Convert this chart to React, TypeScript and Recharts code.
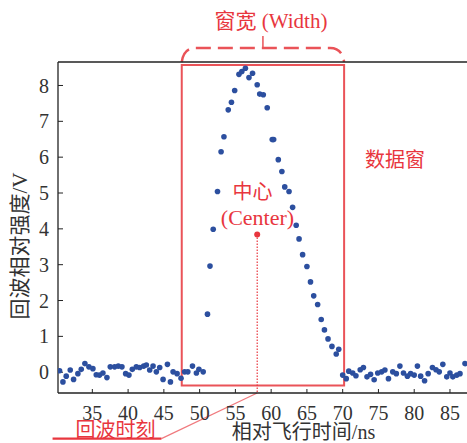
import React from 'react';
import { ScatterChart, Scatter, XAxis, YAxis, ReferenceArea, ReferenceLine, ReferenceDot } from 'recharts';

// baseline noise before the echo (ns / V)
const leftTimes = [30.42, 30.89, 31.35, 31.91, 32.38, 32.98, 33.45, 33.96, 34.52, 35.08, 35.55, 36.01, 36.48, 37.04, 37.51, 38.12, 38.63, 39.14, 39.66, 40.12, 40.59, 41.15, 41.62, 42.18, 42.55, 43.02, 43.49, 43.95, 44.42, 44.89, 45.5, 45.92, 46.29, 46.85, 47.4, 47.9, 48.35, 49.0, 49.55, 49.9, 50.5];
const leftVolts = [0.04, -0.27, -0.11, 0.06, -0.2, -0.04, 0.08, 0.24, 0.15, 0.1, -0.07, -0.08, -0.02, -0.15, 0.15, 0.15, 0.17, 0.15, -0.04, -0.08, 0.08, 0.15, 0.13, 0.17, 0.2, 0.06, 0.17, 0.01, 0.13, -0.2, 0.22, -0.27, 0.01, -0.04, -0.17, 0.01, 0.01, 0.17, -0.02, 0.08, 0.01];

// the echo pulse
const pulseTimes = [51.1, 51.45, 51.9, 52.5, 53.0, 53.4, 54.0, 54.45, 54.9, 55.5, 55.9, 56.4, 56.9, 57.4, 58.05, 58.4, 58.9, 59.45, 60.15, 60.35, 61.0, 61.5, 61.9, 62.5, 63.0, 63.5, 63.9, 64.4, 65.0, 65.5, 65.95, 66.5, 67.0, 67.45, 67.95, 68.5, 69.1, 69.45];
const pulseVolts = [1.62, 2.96, 3.99, 5.04, 6.15, 6.57, 7.32, 7.53, 7.86, 8.31, 8.39, 8.48, 8.22, 8.34, 8.02, 7.76, 7.74, 7.38, 6.49, 6.49, 5.93, 5.6, 5.17, 5.04, 4.6, 4.1, 3.72, 3.28, 2.95, 2.52, 2.13, 1.89, 1.47, 1.18, 0.93, 0.72, 0.51, 0.64];

// baseline noise after the echo
const rightTimes = [70.0, 70.5, 70.85, 71.4, 71.85, 72.45, 72.9, 73.4, 73.9, 74.4, 74.9, 75.45, 75.9, 76.4, 77.0, 77.5, 78.0, 78.5, 79.05, 79.5, 80.0, 80.45, 80.9, 81.45, 81.95, 82.55, 83.05, 83.5, 84.0, 84.55, 85.0, 85.4, 85.95, 86.4, 87.1];
const rightVolts = [-0.08, -0.18, 0.03, -0.02, -0.1, 0.07, 0.13, -0.13, -0.06, -0.21, -0.02, 0.01, 0.06, -0.18, 0.01, -0.04, 0.17, -0.02, -0.11, -0.04, -0.08, 0.17, -0.11, -0.24, -0.04, 0.13, 0.07, 0.01, 0.22, -0.13, -0.02, -0.13, -0.08, -0.04, 0.24];

const xTicks = [35, 40, 45, 50, 55, 60, 65, 70, 75, 80, 85];
const yTicks = [0, 1, 2, 3, 4, 5, 6, 7, 8];

const X_DOMAIN = [30.2, 87.38];
const Y_DOMAIN = [-0.58, 8.655];

// data window and echo centre
const windowStart = 47.5;
const windowEnd = 70.2;
const windowTop = 8.57;
const windowBottom = -0.37;
const centerTime = 58.05;
const centerVolt = 3.84;
// leader line for the echo moment label (runs below the axis)
const leaderEnd = { t: 44.66, v: -1.854 };
const leaderTail = 29.44;

const points = [
  ...leftTimes.map((t, i) => ({ t, v: leftVolts[i] })),
  ...pulseTimes.map((t, i) => ({ t, v: pulseVolts[i] })),
  ...rightTimes.map((t, i) => ({ t, v: rightVolts[i] })),
];

const RED = '#e8363e';
const BOX = '#ea5358';
const BLUE = '#2c4f9f';
const AXIS = '#222';
const SERIF = "'Liberation Serif', 'Noto Sans CJK SC', serif";

const Brace = (props: any) => {
  const { x1, y1, x2 } = props;
  const h = 14;
  const mid = (x1 + x2) / 2;
  return (
    <g>
      <path
        d={`M${x1},${y1} Q${x1 + 2},${y1 - h} ${x1 + h},${y1 - h} L${x2 - h},${y1 - h} Q${x2 - 2},${y1 - h} ${x2},${y1}`}
        fill="none"
        stroke={BOX}
        strokeWidth={2.5}
        strokeDasharray="15 7"
      />
      <line x1={mid} y1={y1 - h} x2={mid} y2={y1 - h - 12} stroke={BOX} strokeWidth={1.5} />
    </g>
  );
};

const Dot = (p: any) => <circle cx={p.cx} cy={p.cy} r={2.8} fill={BLUE} />;

const Txt = ({ x, y, size, children, rotate }: any) => (
  <div
    style={{
      position: 'absolute',
      left: x,
      top: y,
      transform: `translate(-50%, -50%)${rotate ? ' rotate(-90deg)' : ''}`,
      fontSize: size,
      fontFamily: SERIF,
      whiteSpace: 'nowrap',
      lineHeight: 1,
      color: 'inherit',
    }}
  >
    {children}
  </div>
);

export default function App() {
  return (
    <div style={{ position: 'absolute', left: 0, top: 0, width: 467, height: 443, background: '#fff' }}>
      <ScatterChart width={467} height={443} margin={{ top: 32, right: 0, bottom: 0, left: 0 }}>
        <XAxis
          xAxisId="top"
          orientation="top"
          type="number"
          domain={X_DOMAIN}
          ticks={xTicks}
          interval={0}
          allowDataOverflow
          height={30}
          tickSize={-4}
          tickFormatter={() => ''}
          axisLine={{ stroke: AXIS, strokeWidth: 1.3 }}
          tickLine={{ stroke: AXIS }}
        />
        <XAxis
          dataKey="t"
          type="number"
          domain={X_DOMAIN}
          ticks={xTicks}
          interval={0}
          allowDataOverflow
          height={50}
          tickSize={-4}
          tickMargin={17}
          tick={{ fill: '#333', fontSize: 20, fontFamily: SERIF }}
          axisLine={{ stroke: AXIS, strokeWidth: 1.3 }}
          tickLine={{ stroke: AXIS }}
        />
        <YAxis
          dataKey="v"
          type="number"
          domain={Y_DOMAIN}
          ticks={yTicks}
          interval={0}
          allowDataOverflow
          width={58}
          tickSize={-5}
          tickMargin={14}
          tick={{ fill: '#333', fontSize: 20, fontFamily: SERIF }}
          axisLine={{ stroke: AXIS, strokeWidth: 1.3 }}
          tickLine={{ stroke: AXIS }}
        />
        <ReferenceArea
          x1={windowStart}
          x2={windowEnd}
          y1={windowBottom}
          y2={windowTop}
          fill="none"
          fillOpacity={0}
          stroke={BOX}
          strokeWidth={2}
          ifOverflow="visible"
        />
        <ReferenceLine
          segment={[{ x: windowStart, y: Y_DOMAIN[1] }, { x: windowEnd, y: Y_DOMAIN[1] }]}
          ifOverflow="visible"
          shape={Brace}
        />
        <ReferenceLine
          segment={[{ x: centerTime, y: centerVolt }, { x: centerTime, y: Y_DOMAIN[0] }]}
          stroke={RED}
          strokeWidth={1.2}
          strokeDasharray="1.5 1.5"
          ifOverflow="visible"
        />
        <ReferenceLine
          segment={[{ x: centerTime, y: Y_DOMAIN[0] }, { x: leaderEnd.t, y: leaderEnd.v }]}
          stroke="#f07a7e"
          strokeWidth={1.2}
          ifOverflow="visible"
        />
        <ReferenceLine
          segment={[{ x: leaderTail, y: leaderEnd.v }, { x: leaderEnd.t, y: leaderEnd.v }]}
          stroke={RED}
          strokeWidth={2.2}
          ifOverflow="visible"
        />
        <Scatter data={points} dataKey="v" shape={Dot} isAnimationActive={false} />
        <ReferenceDot x={centerTime} y={centerVolt} r={3} fill={RED} stroke="none" ifOverflow="visible" />
      </ScatterChart>

      <div style={{ color: RED }}>
        <Txt x={271} y={21} size={21}>窗宽 (Width)</Txt>
        <Txt x={395} y={160} size={20}>数据窗</Txt>
        <Txt x={252.5} y={191.5} size={20}>中心</Txt>
        <Txt x={257.5} y={218} size={22}>(Center)</Txt>
        <Txt x={115.5} y={430} size={20}>回波时刻</Txt>
      </div>
      <div style={{ color: '#333' }}>
        <Txt x={303.5} y={432} size={20}>相对飞行时间/ns</Txt>
        <Txt x={20} y={246} size={21} rotate>回波相对强度/V</Txt>
      </div>
    </div>
  );
}
